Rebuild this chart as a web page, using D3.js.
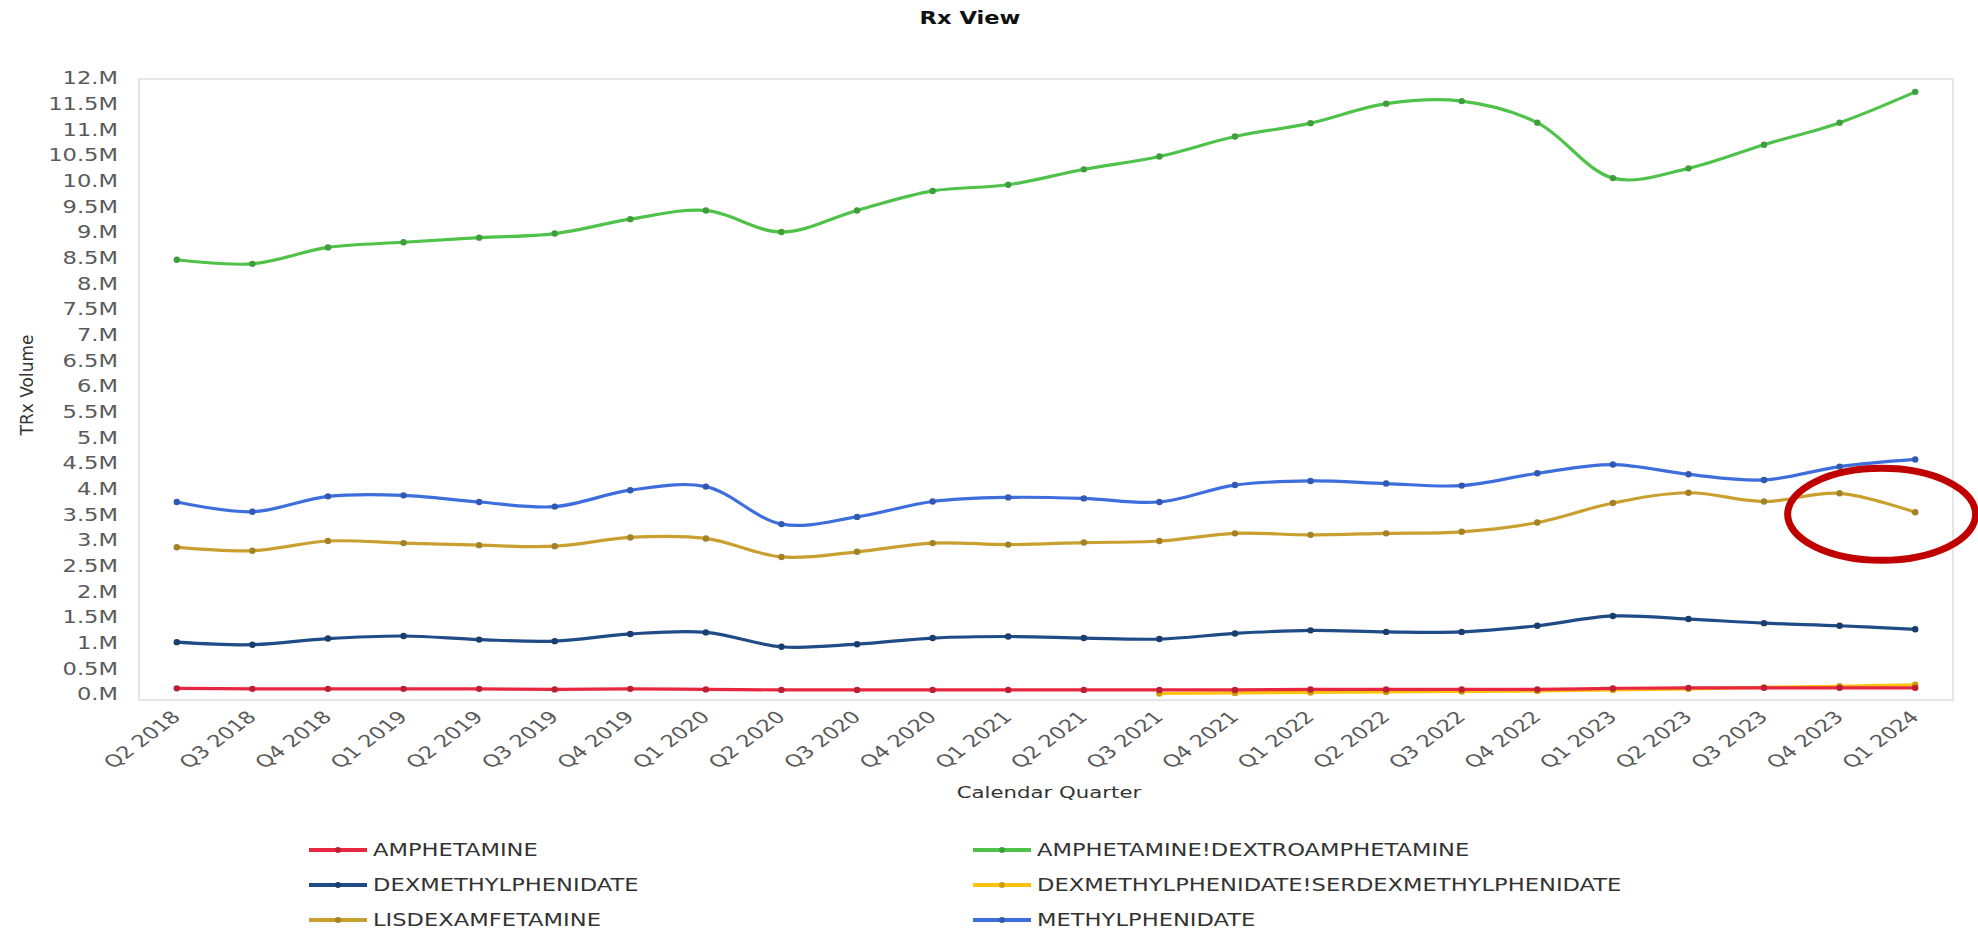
<!DOCTYPE html>
<html>
<head>
<meta charset="utf-8">
<script src="https://cdn.jsdelivr.net/npm/d3@7"></script>
<style>
  body { margin: 0; background: #fff; }
  text { font-family: "DejaVu Sans", Verdana, sans-serif; }
</style>
</head>
<body>
<svg id="chart" width="1978" height="931"></svg>
<script>
// quarters on the x axis
var quarters = ["Q2 2018", "Q3 2018", "Q4 2018", "Q1 2019", "Q2 2019", "Q3 2019", "Q4 2019",
  "Q1 2020", "Q2 2020", "Q3 2020", "Q4 2020", "Q1 2021", "Q2 2021", "Q3 2021", "Q4 2021",
  "Q1 2022", "Q2 2022", "Q3 2022", "Q4 2022", "Q1 2023", "Q2 2023", "Q3 2023", "Q4 2023", "Q1 2024"];

// TRx volume, millions
var amphetamine = [0.11, 0.10, 0.10, 0.10, 0.10, 0.09, 0.10, 0.09, 0.08, 0.08, 0.08, 0.08,
  0.08, 0.08, 0.08, 0.09, 0.09, 0.09, 0.09, 0.11, 0.12, 0.12, 0.12, 0.12];
var amphDextro = [8.46, 8.38, 8.70, 8.80, 8.89, 8.97, 9.25, 9.42, 9.00, 9.42, 9.80, 9.92,
  10.22, 10.47, 10.86, 11.12, 11.50, 11.55, 11.13, 10.05, 10.24, 10.70, 11.13, 11.73];
var dexmeth = [1.01, 0.96, 1.08, 1.13, 1.06, 1.03, 1.17, 1.20, 0.92, 0.97, 1.09, 1.12,
  1.09, 1.07, 1.18, 1.24, 1.21, 1.21, 1.33, 1.52, 1.46, 1.38, 1.33, 1.26];
var dexmethSer = [null, null, null, null, null, null, null, null, null, null, null, null,
  null, 0.01, 0.02, 0.03, 0.04, 0.05, 0.06, 0.08, 0.10, 0.13, 0.15, 0.18];
var lisdex = [2.86, 2.79, 2.98, 2.94, 2.90, 2.88, 3.05, 3.03, 2.67, 2.77, 2.94, 2.91,
  2.95, 2.98, 3.13, 3.10, 3.13, 3.16, 3.34, 3.72, 3.92, 3.75, 3.91, 3.54];
var methyl = [3.74, 3.55, 3.85, 3.87, 3.74, 3.65, 3.97, 4.04, 3.31, 3.45, 3.75, 3.83,
  3.81, 3.74, 4.07, 4.15, 4.10, 4.06, 4.30, 4.47, 4.28, 4.17, 4.43, 4.57];

var seriesNames = ["AMPHETAMINE", "AMPHETAMINE!DEXTROAMPHETAMINE", "DEXMETHYLPHENIDATE",
  "DEXMETHYLPHENIDATE!SERDEXMETHYLPHENIDATE", "LISDEXAMFETAMINE", "METHYLPHENIDATE"];
var seriesColors = ["#e8263f", "#4fc24a", "#1f4b86", "#ffc20e", "#c9a030", "#3d6edc"];
var seriesValues = [amphetamine, amphDextro, dexmeth, dexmethSer, lisdex, methyl];

var yTicks = [0, 0.5, 1, 1.5, 2, 2.5, 3, 3.5, 4, 4.5, 5, 5.5, 6, 6.5, 7, 7.5, 8, 8.5, 9, 9.5, 10, 10.5, 11, 11.5, 12];
var yTickLabels = ["0.M", "0.5M", "1.M", "1.5M", "2.M", "2.5M", "3.M", "3.5M", "4.M", "4.5M", "5.M", "5.5M",
  "6.M", "6.5M", "7.M", "7.5M", "8.M", "8.5M", "9.M", "9.5M", "10.M", "10.5M", "11.M", "11.5M", "12.M"];

// the source picture is stretched sideways, so text gets the same stretch
var SX = 1.33;

var svg = d3.select("#chart");
var plot = { left: 139, right: 1953, top: 79, bottom: 700 };

var x = d3.scalePoint().domain(quarters).range([plot.left, plot.right]).padding(0.5);
var y = d3.scaleLinear().domain([0, 12]).range([694, 78]);

svg.append("rect").attr("width", 1978).attr("height", 931).attr("fill", "#fff");

// faint plot frame
svg.append("rect")
  .attr("x", plot.left).attr("y", plot.top)
  .attr("width", plot.right - plot.left).attr("height", plot.bottom - plot.top)
  .attr("fill", "none").attr("stroke", "#e6e6e6").attr("stroke-width", 2);

// title
svg.append("text")
  .attr("transform", "translate(970,24) scale(" + SX + ",1)")
  .attr("text-anchor", "middle")
  .style("font-size", "17px").style("font-weight", "bold").attr("fill", "#111")
  .text("Rx View");

// y axis
var yAxis = d3.axisLeft(y).tickValues(yTicks).tickSize(0)
  .tickFormat((d, i) => yTickLabels[i]);
var gy = svg.append("g").attr("transform", "translate(118,0)").call(yAxis);
gy.select(".domain").remove();
gy.selectAll("text")
  .attr("x", 0).attr("dy", "0.35em")
  .attr("transform", d => "translate(0," + y(d) + ") scale(" + SX + ",1) translate(0," + (-y(d)) + ")")
  .style("font-size", "17px").style("font-family", "DejaVu Sans").attr("fill", "#5a5a5a");

svg.append("text")
  .attr("transform", "translate(33,385) rotate(-90)")
  .attr("text-anchor", "middle")
  .style("font-size", "17px").attr("fill", "#333")
  .text("TRx Volume");

// x axis
var gx = svg.append("g");
gx.selectAll("text.xl")
  .data(quarters)
  .join("text")
  .attr("class", "xl")
  .attr("text-anchor", "end")
  .attr("transform", d => "translate(" + (x(d) + 5) + ",718) scale(" + SX + ",1) rotate(-45)")
  .style("font-size", "17px").attr("fill", "#5a5a5a")
  .text(d => d);

svg.append("text")
  .attr("transform", "translate(1049,798) scale(" + SX + ",1)")
  .attr("text-anchor", "middle")
  .style("font-size", "16px").attr("fill", "#333")
  .text("Calendar Quarter");

// lines
var line = d3.line()
  .defined(d => d.v != null)
  .x(d => x(d.q))
  .y(d => y(d.v))
  .curve(d3.curveCatmullRom.alpha(0.5));

var drawOrder = [3, 0, 1, 2, 4, 5];
drawOrder.forEach(function (s) {
  var pts = quarters.map((q, i) => ({ q: q, v: seriesValues[s][i] }));
  svg.append("path")
    .datum(pts)
    .attr("d", line)
    .attr("fill", "none")
    .attr("stroke", seriesColors[s])
    .attr("stroke-width", 3.2);
  svg.append("g")
    .selectAll("circle")
    .data(pts.filter(d => d.v != null))
    .join("circle")
    .attr("cx", d => x(d.q))
    .attr("cy", d => y(d.v))
    .attr("r", 3.2)
    .attr("fill", d3.color(seriesColors[s]).darker(0.6));
});

// legend
var legendCols = [309, 973];
var legendRows = [850, 885, 920];
var legend = svg.append("g");
seriesNames.forEach(function (name, i) {
  var lx = legendCols[i % 2], ly = legendRows[Math.floor(i / 2)];
  legend.append("line")
    .attr("x1", lx).attr("x2", lx + 58).attr("y1", ly).attr("y2", ly)
    .attr("stroke", seriesColors[i]).attr("stroke-width", 4);
  legend.append("circle")
    .attr("cx", lx + 29).attr("cy", ly).attr("r", 3)
    .attr("fill", d3.color(seriesColors[i]).darker(0.6));
  legend.append("text")
    .attr("transform", "translate(" + (lx + 64) + "," + ly + ") scale(" + SX + ",1)")
    .attr("dy", "0.36em")
    .style("font-size", "17px").attr("fill", "#333")
    .text(name);
});

// red annotation ring around the last lisdexamfetamine points
svg.append("ellipse")
  .attr("cx", x("Q4 2023") + 42).attr("cy", y(3.5))
  .attr("rx", 94).attr("ry", 46)
  .attr("fill", "none").attr("stroke", "#c00000").attr("stroke-width", 7);
</script>
</body>
</html>
